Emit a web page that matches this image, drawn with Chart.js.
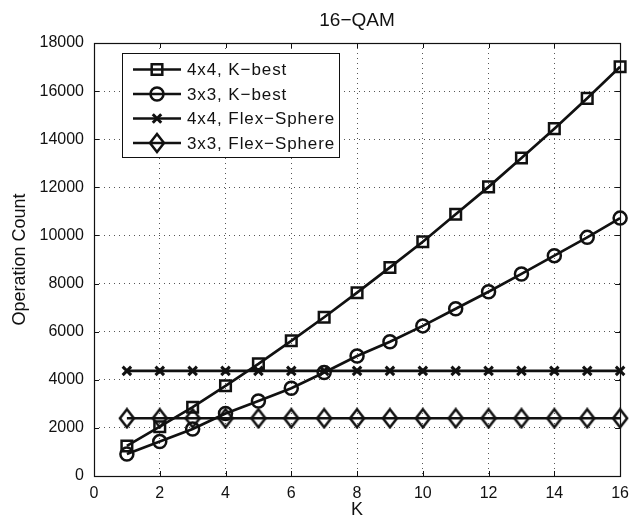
<!DOCTYPE html>
<html>
<head>
<meta charset="utf-8">
<script src="https://cdn.jsdelivr.net/npm/chart.js@4/dist/chart.umd.min.js"></script>
<style>
html,body{margin:0;padding:0;background:#fff;}
#wrap{width:637px;height:522px;}
</style>
</head>
<body>
<div id="wrap"><canvas id="c" width="637" height="522"></canvas></div>
<script>
const chartTitle = "16\u2212QAM";
const xTitle = "K";
const yTitle = "Operation Count";
const kValues = [1,2,3,4,5,6,7,8,9,10,11,12,13,14,15,16];
const kbest4x4 = [1250, 2050, 2860, 3750, 4660, 5620, 6600, 7620, 8670, 9740, 10880, 12020, 13220, 14440, 15700, 17010];
const kbest3x3 = [910, 1430, 1950, 2600, 3120, 3650, 4300, 4990, 5580, 6240, 6950, 7660, 8400, 9160, 9920, 10720];
const flex4x4 = [4370,4370,4370,4370,4370,4370,4370,4370,4370,4370,4370,4370,4370,4370,4370,4370];
const flex3x3 = [2400,2400,2400,2400,2400,2400,2400,2400,2400,2400,2400,2400,2400,2400,2400,2400];
const seriesLabels = ["4x4, K\u2212best", "3x3, K\u2212best", "4x4, Flex\u2212Sphere", "3x3, Flex\u2212Sphere"];
const xTicks = [0,2,4,6,8,10,12,14,16];
const yTicks = [0,2000,4000,6000,8000,10000,12000,14000,16000,18000];

const FONT = "'Liberation Sans', Arial, Helvetica, sans-serif";

// tall diamond marker
function makeDiamond(){
  const w = 18, h = 22;
  const c = document.createElement('canvas');
  c.width = w; c.height = h;
  const g = c.getContext('2d');
  g.strokeStyle = '#111';
  g.lineWidth = 2.5;
  g.beginPath();
  g.moveTo(w/2, 2); g.lineTo(w-2, h/2); g.lineTo(w/2, h-2); g.lineTo(2, h/2); g.closePath();
  g.stroke();
  return c;
}
const diamond = makeDiamond();

function pts(arr){ return arr.map((v,i)=>({x:kValues[i], y:v})); }

const styles = [
  {pointStyle:'rect', pointRadius:7.5},
  {pointStyle:'circle', pointRadius:6.5},
  {pointStyle:'crossRot', pointRadius:6},
  {pointStyle:diamond, pointRadius:9}
];
const seriesData = [kbest4x4, kbest3x3, flex4x4, flex3x3];

const datasets = seriesData.map((d,i)=>({
  label: seriesLabels[i],
  data: pts(d),
  borderColor:'#111',
  backgroundColor:'rgba(0,0,0,0)',
  borderWidth:2.7,
  pointBorderColor:'#111',
  pointBackgroundColor:'rgba(0,0,0,0)',
  pointBorderWidth: i===2 ? 3 : 2.5,
  pointStyle: styles[i].pointStyle,
  pointRadius: styles[i].pointRadius,
  tension:0,
  clip:false
}));

const frame = {
  id:'frame',
  beforeDatasetsDraw(chart){
    const {ctx, chartArea:a, scales:{x,y}} = chart;
    ctx.save();
    ctx.strokeStyle='#111'; ctx.lineWidth=1;
    ctx.beginPath();
    xTicks.forEach(t=>{ const px=Math.round(x.getPixelForValue(t))+0.5;
      ctx.moveTo(px,a.bottom); ctx.lineTo(px,a.bottom-5);
      ctx.moveTo(px,a.top); ctx.lineTo(px,a.top+5); });
    yTicks.forEach(t=>{ const py=Math.round(y.getPixelForValue(t))+0.5;
      ctx.moveTo(a.left,py); ctx.lineTo(a.left+5,py);
      ctx.moveTo(a.right,py); ctx.lineTo(a.right-5,py); });
    ctx.stroke();
    ctx.restore();
  },
  afterDraw(chart){
    const {ctx, chartArea:a} = chart;
    ctx.save();
    ctx.strokeStyle='#111'; ctx.lineWidth=1.2;
    ctx.strokeRect(Math.round(a.left)+0.5, Math.round(a.top)+0.5, Math.round(a.right-a.left), Math.round(a.bottom-a.top));
    // title centred over the plot area
    ctx.fillStyle='#111';
    ctx.font = "19px " + FONT;
    ctx.textAlign='center'; ctx.textBaseline='middle';
    ctx.fillText(chartTitle, (a.left+a.right)/2, 21);
    // legend
    const bx=122.5, by=53.5, bw=217, bh=104;
    ctx.fillStyle='#fff';
    ctx.fillRect(bx,by,bw,bh);
    ctx.lineWidth=1;
    ctx.strokeRect(bx,by,bw,bh);
    const rows=[69.5,94,118.5,143];
    ctx.font = "17px " + FONT;
    ctx.textBaseline='middle';
    ctx.textAlign='left';
    chart.data.datasets.forEach((ds,i)=>{
      const yy=rows[i];
      ctx.strokeStyle='#111'; ctx.lineWidth=2.7;
      ctx.beginPath(); ctx.moveTo(133,yy); ctx.lineTo(181,yy); ctx.stroke();
      ctx.lineWidth=ds.pointBorderWidth;
      ctx.fillStyle='rgba(0,0,0,0)';
      Chart.helpers.drawPoint(ctx,{pointStyle:ds.pointStyle, radius:ds.pointRadius, rotation:0, borderWidth:ds.pointBorderWidth}, 157, yy);
      ctx.fillStyle='#111';
      ctx.letterSpacing='0.9px';
      ctx.fillText(ds.label, 187, yy+1);
      ctx.letterSpacing='0px';
    });
    ctx.restore();
  }
};

new Chart(document.getElementById('c'), {
  type:'line',
  data:{datasets},
  plugins:[frame],
  options:{
    responsive:false,
    devicePixelRatio:1,
    animation:false,
    layout:{padding:{left:0,right:11,top:43,bottom:0}},
    plugins:{
      legend:{display:false},
      tooltip:{enabled:false},
      title:{display:false}
    },
    scales:{
      x:{type:'linear', min:0, max:16,
        afterFit(s){ s.height=46; },
        afterBuildTicks(s){ s.ticks = xTicks.map(v=>({value:v})); },
        grid:{drawTicks:false, color:'#555', lineWidth:1},
        border:{display:false, dash:[1,4]},
        ticks:{padding:8, color:'#111', font:{family:FONT,size:16}, maxRotation:0, autoSkip:false},
        title:{display:true, text:xTitle, color:'#111', font:{family:FONT,size:18}, padding:{top:0,bottom:1}}
      },
      y:{type:'linear', min:0, max:18000,
        afterFit(s){ s.width=94; },
        afterBuildTicks(s){ s.ticks = yTicks.map(v=>({value:v})); },
        grid:{drawTicks:false, color:'#555', lineWidth:1},
        border:{display:false, dash:[1,4]},
        ticks:{padding:10, color:'#111', font:{family:FONT,size:16}, autoSkip:false, callback:v=>String(v)},
        title:{display:true, text:yTitle, color:'#111', font:{family:FONT,size:18}, padding:{top:9,bottom:0}}
      }
    }
  }
});
</script>
</body>
</html>
